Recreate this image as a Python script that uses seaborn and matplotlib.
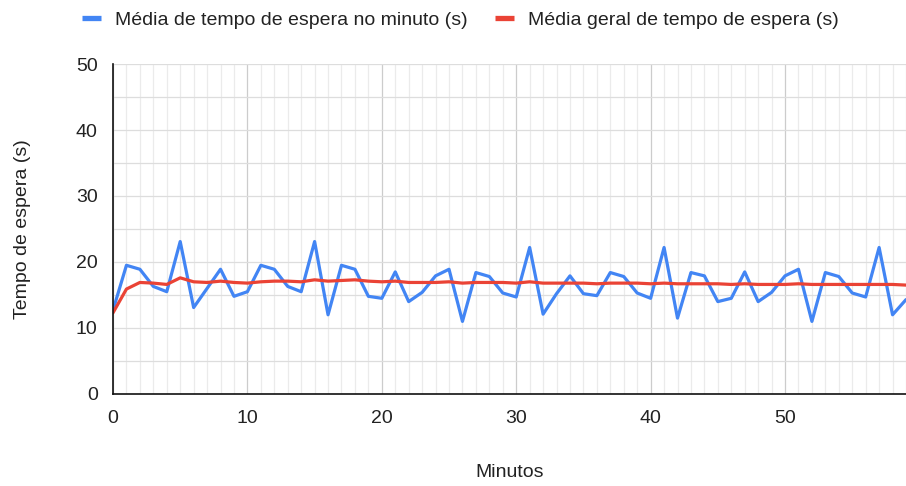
import matplotlib
matplotlib.use("Agg")
import matplotlib.pyplot as plt
import seaborn as sns
import pandas as pd
from matplotlib.ticker import MultipleLocator
from matplotlib.lines import Line2D

minutos = list(range(60))
media_minuto = [12.7, 19.5, 18.9, 16.3, 15.5, 23.1, 13.1, 16.0, 18.9, 14.8,
                15.5, 19.5, 18.9, 16.3, 15.5, 23.1, 12.0, 19.5, 18.9, 14.8,
                14.5, 18.5, 14.0, 15.4, 17.9, 18.9, 11.0, 18.4, 17.8, 15.3,
                14.7, 22.2, 12.1, 15.2, 17.9, 15.2, 14.9, 18.4, 17.8, 15.3,
                14.5, 22.2, 11.5, 18.4, 17.9, 14.0, 14.5, 18.5, 14.0, 15.4,
                17.9, 18.9, 11.0, 18.4, 17.8, 15.3, 14.7, 22.2, 12.0, 14.3]
media_geral = [12.3, 15.9, 16.9, 16.8, 16.6, 17.6, 17.0, 16.9, 17.1, 16.9,
               16.8, 17.0, 17.1, 17.1, 17.0, 17.3, 17.1, 17.2, 17.3, 17.1,
               17.0, 17.1, 16.9, 16.9, 16.9, 17.0, 16.8, 16.9, 16.9, 16.9,
               16.8, 17.0, 16.8, 16.8, 16.8, 16.8, 16.7, 16.8, 16.8, 16.8,
               16.7, 16.8, 16.7, 16.7, 16.7, 16.7, 16.6, 16.7, 16.6, 16.6,
               16.6, 16.7, 16.6, 16.6, 16.6, 16.6, 16.6, 16.6, 16.6, 16.5]
serie_minuto = "Média de tempo de espera no minuto (s)"
serie_geral = "Média geral de tempo de espera (s)"
cor_minuto = "#4285F4"
cor_geral = "#EA4335"

df = pd.DataFrame({"Minutos": minutos, "minuto": media_minuto, "geral": media_geral})

sns.set_style("white")
plt.rcParams["font.family"] = ["Liberation Sans", "DejaVu Sans"]

fig = plt.figure(figsize=(9.06, 4.86), dpi=100)
ax = fig.add_axes([113/906, 1-394/486, 1-113/906, (394-64)/486])

sns.lineplot(data=df, x="Minutos", y="minuto", ax=ax, color=cor_minuto, lw=2.3, zorder=3)
sns.lineplot(data=df, x="Minutos", y="geral", ax=ax, color=cor_geral, lw=2.3, zorder=4)

ax.set_xlim(0, 59)
ax.set_ylim(0, 50)
ax.xaxis.set_major_locator(MultipleLocator(10))
ax.xaxis.set_minor_locator(MultipleLocator(1))
ax.yaxis.set_major_locator(MultipleLocator(10))
ax.yaxis.set_minor_locator(MultipleLocator(5))

ax.grid(which="major", axis="x", color="#cccccc", lw=0.9, zorder=0)
ax.grid(which="minor", axis="x", color="#ebebeb", lw=0.9, zorder=0)
ax.grid(which="both", axis="y", color="#dddddd", lw=0.9, zorder=0)
ax.set_axisbelow(True)

for s in ["top", "right"]:
    ax.spines[s].set_visible(False)
for s in ["left", "bottom"]:
    ax.spines[s].set_color("#111111")
    ax.spines[s].set_linewidth(1.2)
    ax.spines[s].set_zorder(5)

ax.tick_params(axis="y", which="major", direction="inout", length=14, width=1.1,
               color="#111111", labelsize=14, labelcolor="#222222", pad=4)
ax.tick_params(axis="y", which="minor", direction="inout", length=7.5, width=1.1, color="#111111")
ax.tick_params(axis="x", which="major", direction="inout", length=15, width=1.1,
               color="#111111", labelsize=14, labelcolor="#222222", pad=4)
ax.tick_params(axis="x", which="minor", direction="inout", length=6.5, width=1.1, color="#111111")

ax.set_xlabel("Minutos", fontsize=14, color="#222222")
ax.xaxis.set_label_coords(0.5, -0.212)
ax.set_ylabel("Tempo de espera (s)", fontsize=14, color="#222222")
ax.yaxis.set_label_coords(-0.103, 0.5)

handles = [Line2D([], [], color=cor_minuto, lw=3.8, solid_capstyle="butt"),
           Line2D([], [], color=cor_geral, lw=3.8, solid_capstyle="butt")]
fig.legend(handles, [serie_minuto, serie_geral], loc="center", bbox_to_anchor=(0.508, 0.959),
           ncol=2, frameon=False, fontsize=14, handlelength=0.98, handletextpad=0.72,
           columnspacing=1.39, labelcolor="#222222")

fig.savefig("out.png", dpi=100)
